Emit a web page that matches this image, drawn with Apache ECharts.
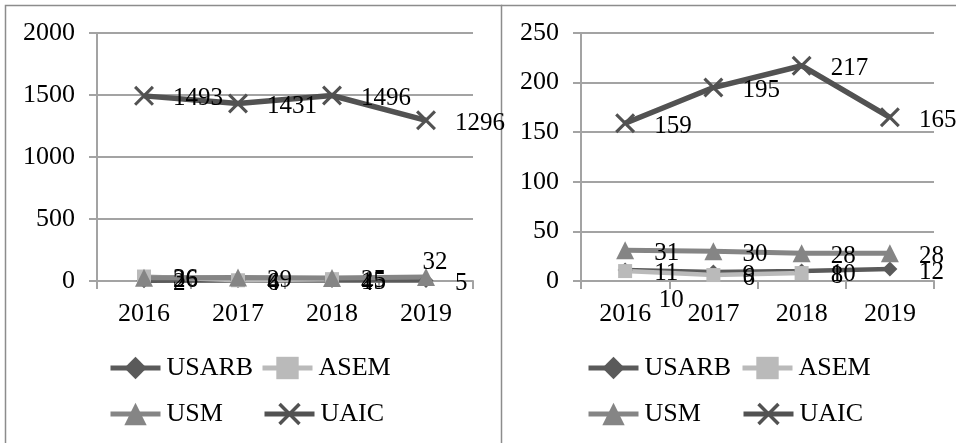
<!DOCTYPE html>
<html>
<head>
<meta charset="utf-8">
<script src="https://cdn.jsdelivr.net/npm/echarts@6/dist/echarts.min.js"></script>
<style>html,body{margin:0;padding:0;background:#fff}#c{width:956px;height:443px}</style>
</head>
<body>
<div id="c"></div>
<script>
// ---- data ----
const years = ['2016', '2017', '2018', '2019'];
const seriesNames = ['USARB', 'ASEM', 'USM', 'UAIC'];
const leftUSARB = [2, 4, 4, 5];
const leftASEM = [36, 6, 15, null];
const leftUSM = [26, 29, 25, 32];
const leftUAIC = [1493, 1431, 1496, 1296];
const rightUSARB = [11, 9, 10, 12];
const rightASEM = [10, 6, 8, null];
const rightUSM = [31, 30, 28, 28];
const rightUAIC = [159, 195, 217, 165];
const leftAxisMax = 2000, leftAxisStep = 500;
const rightAxisMax = 250, rightAxisStep = 50;

// ---- styles ----
const FONT = '"Liberation Serif", "Times New Roman", serif';
const gridColor = '#a3a3a3';
const colors = { USARB: '#5a5a5a', ASEM: '#bababa', USM: '#858585', UAIC: '#525252' };
const symbols = {
  USARB: 'diamond',
  ASEM: 'rect',
  USM: 'triangle',
  UAIC: 'path://M0,1.1 L1.1,0 L10,8.9 L8.9,10 Z M8.9,0 L10,1.1 L1.1,10 L0,8.9 Z'
};
const symbolSizes = { USARB: 15, ASEM: 14, USM: 18, UAIC: 20 };
const lineWidths = { USARB: 4.5, ASEM: 4.5, USM: 5, UAIC: 5.5 };

function mkData(arr, special) {
  return arr.map((v, i) => {
    if (special && special[i]) return Object.assign({ value: v }, special[i]);
    return v;
  });
}

function mkSeries(name, arr, idx, special) {
  const s = symbolSizes[name];
  return {
    name: name,
    type: 'line',
    xAxisIndex: idx,
    yAxisIndex: idx,
    data: mkData(arr, special),
    symbol: symbols[name],
    symbolSize: s,
    showAllSymbol: true,
    connectNulls: false,
    lineStyle: { color: colors[name], width: lineWidths[name] },
    itemStyle: { color: colors[name] },
    label: {
      show: true,
      position: 'right',
      distance: 29 - s / 2,
      color: '#000',
      fontFamily: FONT,
      fontSize: 25,
      offset: [0, 3]
    },
    emphasis: { disabled: true },
    animation: false
  };
}

function mkAxes(idx, max, step) {
  return {
    x: {
      type: 'category',
      gridIndex: idx,
      data: years,
      boundaryGap: true,
      axisLine: { show: true, lineStyle: { color: gridColor, width: 2 } },
      axisTick: { show: true, length: 8, interval: 0, lineStyle: { color: gridColor, width: 2 } },
      axisLabel: { color: '#000', fontFamily: FONT, fontSize: 26, margin: 20 }
    },
    y: {
      type: 'value',
      gridIndex: idx,
      min: 0,
      max: max,
      interval: step,
      axisLine: { show: true, lineStyle: { color: gridColor, width: 2 } },
      axisTick: { show: true, length: 8, lineStyle: { color: gridColor, width: 2 } },
      splitLine: { show: true, lineStyle: { color: gridColor, width: 2 } },
      axisLabel: { color: '#000', fontFamily: FONT, fontSize: 26, margin: 22, formatter: v => String(v) }
    }
  };
}

const a0 = mkAxes(0, leftAxisMax, leftAxisStep);
const a1 = mkAxes(1, rightAxisMax, rightAxisStep);

function mkLegend(name, left, top) {
  return {
    data: [name],
    left: left,
    top: top,
    padding: 0,
    itemWidth: 50,
    itemHeight: 28,
    selectedMode: false,
    textStyle: { color: '#000', fontFamily: FONT, fontSize: 26, padding: [0, 0, 0, 1] },
    lineStyle: { width: 5 }
  };
}

const legendPos = [
  [108, 355], [260, 355], [108, 401], [262, 401],
  [586, 355], [740, 355], [586, 401], [741, 401]
];
const legends = [];
for (let k = 0; k < 2; k++) {
  seriesNames.forEach((n, i) => {
    const p = legendPos[k * 4 + i];
    legends.push(mkLegend(n, p[0], p[1]));
  });
}

const option = {
  backgroundColor: '#fff',
  animation: false,
  grid: [
    { left: 97, top: 33, width: 376, height: 248 },
    { left: 581, top: 33, width: 353, height: 248 }
  ],
  xAxis: [a0.x, a1.x],
  yAxis: [a0.y, a1.y],
  legend: legends,
  series: [
    mkSeries('USARB', leftUSARB, 0),
    mkSeries('ASEM', leftASEM, 0),
    mkSeries('USM', leftUSM, 0, { 3: { label: { position: 'inside', offset: [9, -15] } } }),
    mkSeries('UAIC', leftUAIC, 0),
    mkSeries('USARB', rightUSARB, 1),
    mkSeries('ASEM', rightASEM, 1, { 0: { label: { position: 'inside', offset: [46, 29] } } }),
    mkSeries('USM', rightUSM, 1),
    mkSeries('UAIC', rightUAIC, 1)
  ],
  graphic: [
    { type: 'rect', shape: { x: 5.5, y: 5.5, width: 496, height: 460 }, style: { fill: 'none', stroke: '#8c8c8c', lineWidth: 1.5 }, silent: true },
    { type: 'line', shape: { x1: 501, y1: 5.5, x2: 960, y2: 5.5 }, style: { stroke: '#8c8c8c', lineWidth: 1.5 }, silent: true }
  ]
};

const chart = echarts.init(document.getElementById('c'), null, { renderer: 'canvas' });
chart.setOption(option);
</script>
</body>
</html>
